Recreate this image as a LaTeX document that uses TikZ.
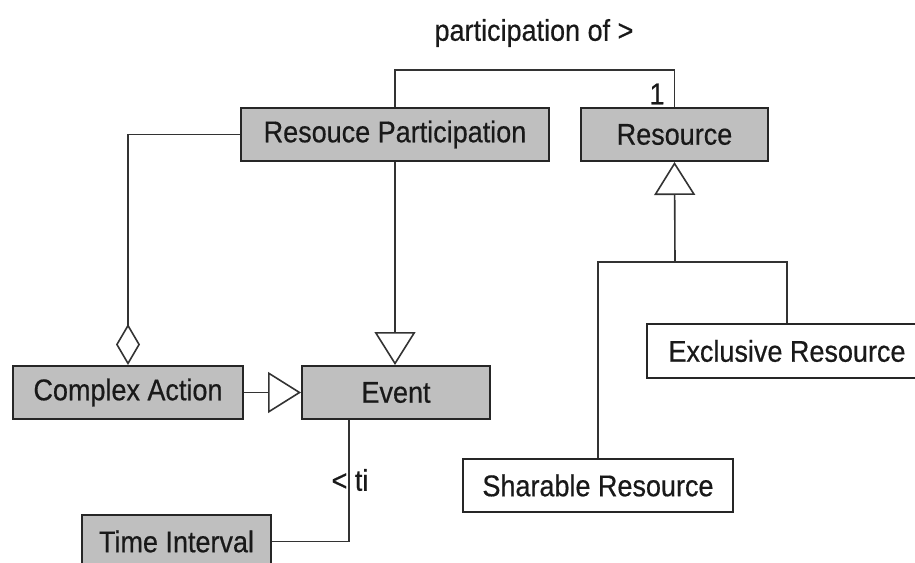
\documentclass[tikz,border=0pt]{standalone}
\usepackage{fontspec}
\setmainfont[FakeStretch=0.9, FakeBold=0.5]{Liberation Sans}
\usetikzlibrary{arrows.meta,calc}
\begin{document}
\begin{tikzpicture}[x=1pt,y=-1pt,
  every node/.style={font=\fontsize{30}{36}\selectfont, inner sep=0pt, text=black!90},
  cls/.style={draw=black!85, line width=2pt, fill=black!25, minimum height=53pt, anchor=center},
  clsw/.style={cls, fill=white},
  conn/.style={draw=black!80, line width=1.6pt},
  gen/.style={conn, -{Triangle[open, length=33pt, width=41pt, fill=white]}},
  agg/.style={conn, -{Diamond[open, length=41pt, width=24pt, fill=white]}}]
\useasboundingbox (0,0) rectangle (915,562);

% classes
\node[cls, minimum width=308pt] (rp) at (395,134.5) {Resouce Participation};
\node[cls, minimum width=187pt] (res) at (674.5,134.5) {Resource};
\node[cls, minimum width=230pt] (ca) at (128,392.5) {Complex Action};
\node[cls, minimum width=188pt] (ev) at (396,392.5) {Event};
\node[clsw, minimum width=280pt, minimum height=54pt] (ex) at (787,351) {Exclusive Resource};
\node[clsw, minimum width=270pt] (sh) at (598,485.5) {Sharable Resource};
\node[cls, minimum width=189pt] (ti) at (176.5,541.5) {Time Interval};

% association: participation of
\coordinate (pTop) at (395,70);
\draw[conn] (rp.north) -- (pTop) -| (res.north);
\node (plabel) at (534,33) {participation of >};
\node (mult) at (657,94) {1};

% aggregation into Complex Action
\draw[agg] (rp.west) -| (ca.north);

% generalisations to Event
\draw[gen] (rp.south) -- (rp.south |- ev.north);
\draw[gen] (ca.east) -- (ev.west);

% generalisations to Resource
\coordinate (jn) at (675,262);
\draw[gen] (jn) -- (res.south);
\draw[conn] (sh.north) |- (jn) -| (ex.north);

% time interval association
\coordinate (tiTurn) at (349,541.5);
\draw[conn] (ev.south -| tiTurn) -- (tiTurn) -- (ti.east);
\node (tilabel) at (350,480) {< ti};
\end{tikzpicture}
\end{document}
